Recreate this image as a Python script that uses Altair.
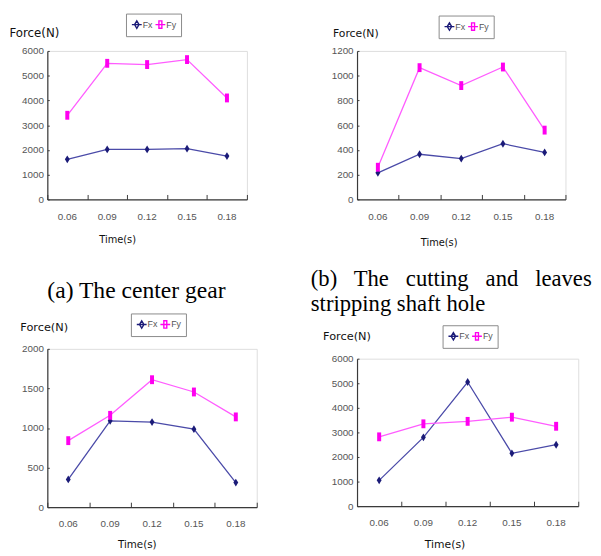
import altair as alt
import pandas as pd

# ---------------- data ----------------
times = ["0.06", "0.09", "0.12", "0.15", "0.18"]
series = ["Fx", "Fy"]

a_fx = [1620, 2020, 2020, 2050, 1750]
a_fy = [3400, 5500, 5450, 5650, 4100]
a_ticks = [0, 1000, 2000, 3000, 4000, 5000, 6000]

b_fx = [215, 365, 330, 450, 380]
b_fy = [260, 1065, 920, 1070, 560]
b_ticks = [0, 200, 400, 600, 800, 1000, 1200]

c_fx = [350, 1090, 1075, 985, 310]
c_fy = [840, 1160, 1610, 1455, 1140]
c_ticks = [0, 500, 1000, 1500, 2000]

d_fx = [1050, 2800, 5050, 2150, 2500]
d_fy = [2820, 3350, 3450, 3620, 3250]
d_ticks = [0, 1000, 2000, 3000, 4000, 5000, 6000]

caption_a = "(a) The center gear"
caption_b = ["(b)\u00a0\u00a0 The\u00a0\u00a0 cutting\u00a0\u00a0 and\u00a0\u00a0 leaves",
             "stripping shaft hole"]

# ---------------- styles ----------------
FX_LINE = "#4a4aa8"
FY_LINE = "#ff5cff"
FX_MARK = "#1b1b78"
FY_MARK = "#ff00f0"
AXIS_COLOR = "#3a3a3a"
LABEL_FONT = "Liberation Sans Narrow, Liberation Sans, sans-serif"
TITLE_FONT = "DejaVu Sans"
DIAMOND = "M0,-1L0.62,0L0,1L-0.62,0Z"
TALLRECT = "M-0.45,-1H0.45V1H-0.45Z"
LEG_FX = "M-1,0H1M0,-0.75L0.45,0L0,0.75L-0.45,0Z"
LEG_FY = "M-1,0H1M-0.3,-0.75H0.3V0.75H-0.3Z"


def panel(fx, fy, ticks, w, h, force_x, force_y, force_size,
          time_x, time_y, time_size, leg_x, leg_y, caption=None,
          cap_dx=0, cap_offset=0, cap_size=23):
    df = pd.DataFrame({
        "time": times * 2,
        "series": [series[0]] * len(times) + [series[1]] * len(times),
        "force": fx + fy,
    })
    xscale = alt.Scale(type="band", domain=times, paddingInner=0, paddingOuter=0)
    yscale = alt.Scale(domain=[ticks[0], ticks[-1]], nice=False)
    base = alt.Chart(df)

    x_main = alt.X("time:O", scale=xscale, bandPosition=0.5, axis=alt.Axis(
        orient="bottom", title="Time(s)", titleX=time_x, titleY=time_y,
        titleAlign="center", titleBaseline="middle", titleFont=TITLE_FONT,
        titleFontSize=time_size, titleFontWeight="normal", titleColor="#111",
        labelFont=LABEL_FONT, labelFontSize=10, labelColor="#555",
        labelAngle=0, labelPadding=12, ticks=False, domainColor=AXIS_COLOR,
        domainWidth=1.2, grid=False))
    y_main = alt.Y("force:Q", scale=yscale, axis=alt.Axis(
        orient="left", values=ticks, format="d", title="Force(N)", titleAngle=0,
        titleX=force_x, titleY=force_y, titleAlign="left",
        titleBaseline="middle", titleFont=TITLE_FONT, titleFontSize=force_size,
        titleFontWeight="normal", titleColor="#111", labelFont=LABEL_FONT,
        labelFontSize=10, labelColor="#555", labelPadding=4, ticks=False,
        domainColor=AXIS_COLOR, domainWidth=1.2, grid=False))

    x_in = alt.X("time:O", scale=xscale, bandPosition=0.5, axis=alt.Axis(
        orient="top", offset=-h, labels=False, domain=False, ticks=True,
        tickSize=5, tickBand="extent", tickColor=AXIS_COLOR, title=None,
        grid=False))
    y_in = alt.Y("force:Q", scale=yscale, axis=alt.Axis(
        orient="right", offset=-w, values=ticks, labels=False, domain=False,
        ticks=True, tickSize=2, tickColor=AXIS_COLOR, title=None, grid=False))

    x_none = alt.X("time:O", scale=xscale, bandPosition=0.5, axis=None)
    y_none = alt.Y("force:Q", scale=yscale, axis=None)

    line_fx = base.transform_filter(alt.datum.series == "Fx").mark_line(
        color=FX_LINE, strokeWidth=1.3).encode(x=x_main, y=y_main)
    line_fy = base.transform_filter(alt.datum.series == "Fy").mark_line(
        color=FY_LINE, strokeWidth=1.3).encode(x=x_none, y=y_none)
    pts_fx = base.transform_filter(alt.datum.series == "Fx").mark_point(
        shape=DIAMOND, filled=True, size=64, color=FX_MARK, opacity=1).encode(
        x=x_in, y=y_in)
    pts_fy = base.transform_filter(alt.datum.series == "Fy").mark_point(
        shape=TALLRECT, filled=True, size=81, color=FY_MARK, opacity=1).encode(
        x=x_none, y=y_none)

    legend = alt.Legend(orient="none", legendX=leg_x, legendY=leg_y,
                        direction="horizontal", title=None, columns=2,
                        symbolSize=100, symbolStrokeWidth=1.4, symbolOpacity=1,
                        labelFont=LABEL_FONT, labelFontSize=9,
                        labelColor="#555", labelOffset=0, columnPadding=0,
                        padding=5, strokeColor="#8a8a8a", fillColor="white")
    leg = base.mark_point(filled=False, opacity=0).encode(
        x=x_none, y=y_none,
        color=alt.Color("series:N", scale=alt.Scale(domain=series, range=[FX_MARK, FY_MARK]), legend=legend),
        shape=alt.Shape("series:N", scale=alt.Scale(domain=series, range=[LEG_FX, LEG_FY]), legend=legend),
    )

    kwargs = {}
    if caption is not None:
        kwargs["title"] = alt.TitleParams(
            text=caption, orient="bottom", anchor="start", frame="group",
            dx=cap_dx, offset=cap_offset, font="Liberation Serif",
            fontSize=cap_size, fontWeight="normal", color="black",
            baseline="alphabetic", lineHeight=26)

    return alt.layer(line_fx, line_fy, pts_fx, pts_fy, leg, **kwargs).resolve_axis(
        x="independent", y="independent").properties(width=w, height=h)


pa = panel(a_fx, a_fy, a_ticks, 203, 151, -39, -19, 12, 71, 41, 10, 80, -38,
           caption=caption_a, cap_dx=0, cap_offset=54, cap_size=24)
pb = panel(b_fx, b_fy, b_ticks, 212, 151, -25, -18, 11, 83, 44, 10, 83, -36,
           caption=caption_b, cap_dx=-47, cap_offset=39, cap_size=23)
pc = panel(c_fx, c_fy, c_ticks, 213, 161, -28, -22, 11.5, 91, 38, 10.5, 85, -36)
pd_ = panel(d_fx, d_fy, d_ticks, 225, 150, -35, -22, 11.5, 89, 39, 11, 87, -34)

col1 = alt.vconcat(pa, pc, spacing=9).resolve_scale(
    color="independent", shape="independent").resolve_legend(
    color="independent", shape="independent")
col2 = alt.vconcat(pb, pd_, spacing=7).resolve_scale(
    color="independent", shape="independent").resolve_legend(
    color="independent", shape="independent")

chart = alt.hconcat(col1, col2, spacing=53).resolve_scale(
    color="independent", shape="independent").resolve_legend(
    color="independent", shape="independent").properties(
    padding={"left": 0, "top": 0, "right": 0, "bottom": 0}
).configure_view(strokeWidth=0).configure(background="white")

chart.save("out.html", embed_options={"renderer": "svg", "actions": False})
